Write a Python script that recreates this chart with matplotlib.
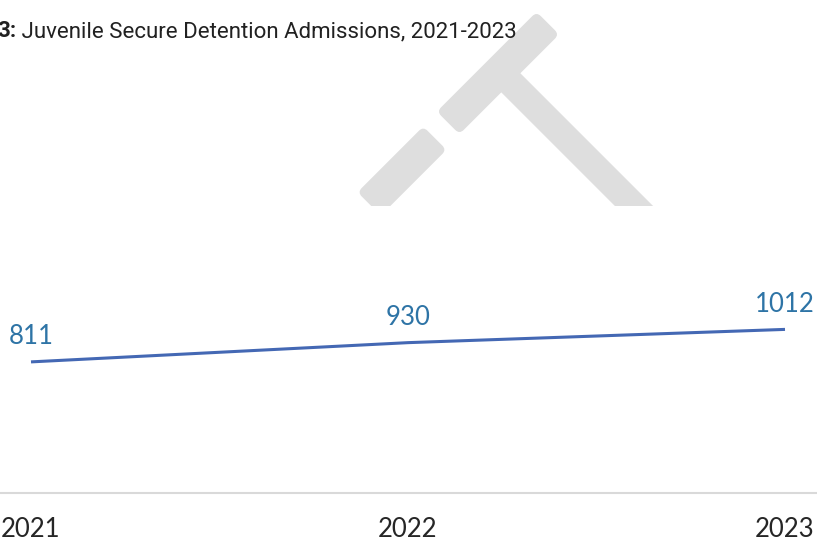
import matplotlib
matplotlib.use("Agg")
import matplotlib.pyplot as plt
from matplotlib.patches import FancyBboxPatch, Rectangle
from matplotlib.transforms import Affine2D

# admissions per year
years = ["2021", "2022", "2023"]
admissions = [811, 930, 1012]

W, H = 817, 542
fig = plt.figure(figsize=(W / 100, H / 100), dpi=100)
px = Affine2D().scale(1 / W, 1 / H) + fig.transFigure   # pixel coords, y up

# grey logo shapes behind the title, cut off at a horizontal edge
logo_clip = Rectangle((0, H - 206), W, 206, transform=px)
def bar(cx, cy, length, width, angle, r=6):
    p = FancyBboxPatch((-length / 2, -width / 2), length, width,
                       boxstyle="round,pad=0,rounding_size=%d" % r,
                       fc="#dedede", ec="none",
                       transform=Affine2D().rotate_deg(angle).translate(cx, H - cy) + px)
    fig.add_artist(p)
    p.set_clip_path(logo_clip)
bar(498, 73, 141, 32, 45)
bar(402, 171, 93, 33, 45)
bar(581, 153, 218, 27, -45, r=0)

# title, bold figure number then the caption
t1 = fig.text(-3 / W, 1 - 37 / H, "3:", fontsize=16, fontweight="bold",
              family="Roboto", color="#212121", va="baseline")
fig.canvas.draw()
bb = t1.get_window_extent()
fig.text(bb.x1 / W, 1 - 37 / H, " Juvenile Secure Detention Admissions, 2021-2023",
         fontsize=16, family="Roboto", color="#212121", va="baseline")

# line chart
ax = fig.add_axes([0, 49 / H, 1, 194 / H])
ax.patch.set_visible(False)
x = list(range(len(years)))
ax.plot(x, admissions, color="#4468b4", lw=2.2, solid_capstyle="butt")
for xi, v in zip(x, admissions):
    ax.annotate(str(v), (xi, v), xytext=(0, 12.6), textcoords="offset points",
                ha="center", va="baseline", fontsize=18.5, family="Lato",
                color="#2e74a6")

ax.set_xlim(-31 / 377, 2 + 32 / 377)
ax.set_ylim(0, 1200)
ax.set_yticks([])
ax.set_xticks(x, years)
ax.tick_params(axis="x", length=0, pad=17, labelsize=18.5, labelcolor="#262626")
for lab in ax.get_xticklabels():
    lab.set_family("Lato")
for s in ["top", "left", "right"]:
    ax.spines[s].set_visible(False)
ax.spines["bottom"].set_color("#d9d9d9")
ax.spines["bottom"].set_linewidth(1.5)

fig.savefig("out.png", dpi=100)
